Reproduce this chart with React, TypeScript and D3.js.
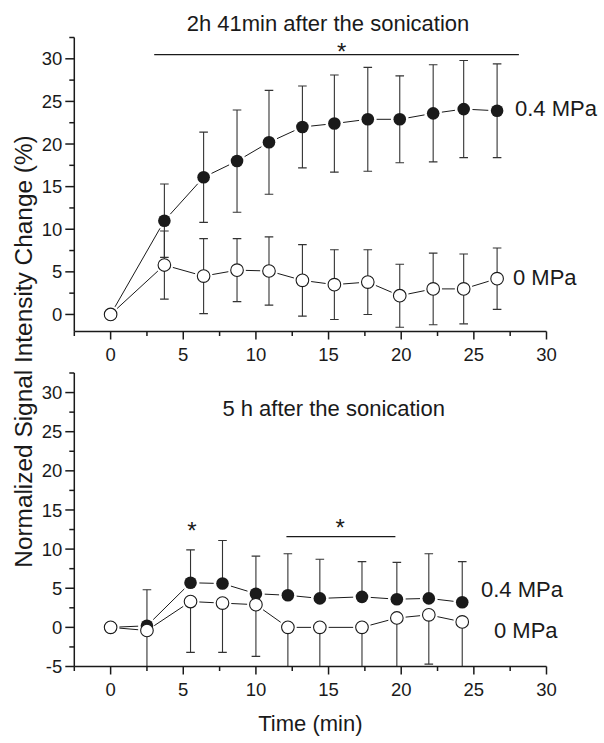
import React from "react";
import * as d3 from "d3";

// ---------- data ----------
const timeTop = [0, 3.7, 6.4, 8.7, 10.9, 13.2, 15.4, 17.7, 19.9, 22.2, 24.3, 26.6];
const filledTop = [0, 11.0, 16.1, 18.0, 20.2, 22.0, 22.4, 22.9, 22.9, 23.6, 24.1, 23.9];
const filledTopErr = [0, 4.3, 5.3, 6.0, 6.1, 4.8, 5.7, 6.1, 5.1, 5.7, 5.7, 5.5];
const openTop = [0, 5.8, 4.5, 5.2, 5.1, 4.0, 3.5, 3.8, 2.2, 3.0, 3.0, 4.2];
const openTopErr = [0, 4.0, 4.4, 3.7, 4.0, 4.2, 4.1, 3.8, 3.7, 4.2, 4.1, 3.6];

const timeBot = [0, 2.5, 5.5, 7.7, 10.0, 12.2, 14.4, 17.3, 19.7, 21.9, 24.2];
const filledBot = [0, 0.2, 5.7, 5.6, 4.3, 4.1, 3.7, 3.9, 3.6, 3.7, 3.2];
const filledBotErr = [0, 4.6, 4.2, 5.5, 4.8, 5.3, 5.0, 4.5, 4.7, 5.7, 5.2];
const openBot = [0, -0.4, 3.3, 3.1, 2.9, 0.0, 0.0, 0.0, 1.2, 1.6, 0.7];
const openBotErr = [0, 5.2, 6.5, 6.3, 6.6, 6.0, 6.0, 6.0, 6.5, 6.3, 6.0];

const xMajorTicks = [0, 5, 10, 15, 20, 25, 30];
const xMinorTicks = [-2.5, 2.5, 7.5, 12.5, 17.5, 22.5, 27.5];
const yMajorTop = [0, 5, 10, 15, 20, 25, 30];
const yMinorTop = [2.5, 7.5, 12.5, 17.5, 22.5, 27.5, 32.5];
const yMajorBot = [-5, 0, 5, 10, 15, 20, 25, 30];
const yMinorBot = [-2.5, 2.5, 7.5, 12.5, 17.5, 22.5, 27.5, 32.5];

const titleTop = "2h 41min after the sonication";
const titleBot = "5 h after the sonication";
const seriesHigh = "0.4 MPa";
const seriesZero = "0 MPa";
const xLabel = "Time (min)";
const yLabel = "Normalized Signal Intensity Change (%)";

// ---------- layout ----------
const W = 604;
const H = 743;
const FONT = "'Liberation Sans', Arial, Helvetica, sans-serif";
const INK = "#1a1a1a";
const X0 = 74.3;
const X1 = 546.5;
const R = 6.3;

type Panel = {
  id: string;
  yTop: number;
  yBot: number;
  domain: [number, number];
  majors: number[];
  minors: number[];
  t: number[];
  f: number[];
  fe: number[];
  o: number[];
  oe: number[];
  fDir: "both" | "plus";
  oDir: "both" | "minus";
};

const panels: Panel[] = [
  { id: "top", yTop: 37.5, yBot: 331.5, domain: [-2, 32.5], majors: yMajorTop, minors: yMinorTop,
    t: timeTop, f: filledTop, fe: filledTopErr, o: openTop, oe: openTopErr, fDir: "both", oDir: "both" },
  { id: "bot", yTop: 373, yBot: 666.5, domain: [-5, 32.5], majors: yMajorBot, minors: yMinorBot,
    t: timeBot, f: filledBot, fe: filledBotErr, o: openBot, oe: openBotErr, fDir: "plus", oDir: "minus" },
];

const x = d3.scaleLinear().domain([-2.5, 30]).range([X0, X1]);

function gappedSegments(pts: [number, number][], gap: number) {
  const segs: { x1: number; y1: number; x2: number; y2: number }[] = [];
  for (let i = 0; i < pts.length - 1; i++) {
    const [ax, ay] = pts[i];
    const [bx, by] = pts[i + 1];
    const dx = bx - ax, dy = by - ay;
    const len = Math.hypot(dx, dy);
    if (len <= 2 * gap) continue;
    const ux = dx / len, uy = dy / len;
    segs.push({ x1: ax + ux * gap, y1: ay + uy * gap, x2: bx - ux * gap, y2: by - uy * gap });
  }
  return segs;
}

function PanelView({ p }: { p: Panel }) {
  const y = d3.scaleLinear().domain(p.domain).range([p.yBot, p.yTop]);
  const clipId = `clip-${p.id}`;
  const fPts: [number, number][] = p.t.map((t, i) => [x(t), y(p.f[i])]);
  const oPts: [number, number][] = p.t.map((t, i) => [x(t), y(p.o[i])]);
  const errBars = (vals: number[], errs: number[], dir: string, key: string) =>
    p.t.map((t, i) => {
      if (errs[i] <= 0) return null;
      const cx = x(t);
      const c = y(vals[i]);
      const hi = dir === "minus" ? c : y(vals[i] + errs[i]);
      const lo = dir === "plus" ? c : y(vals[i] - errs[i]);
      return (
        <g key={`${key}${i}`}>
          <line x1={cx} x2={cx} y1={hi} y2={lo} />
          {dir !== "minus" && <line x1={cx - 4.3} x2={cx + 4.3} y1={hi} y2={hi} />}
          {dir !== "plus" && <line x1={cx - 4.3} x2={cx + 4.3} y1={lo} y2={lo} />}
        </g>
      );
    });
  return (
    <g>
      <defs>
        <clipPath id={clipId}>
          <rect x={X0} y={p.yTop - 10} width={X1 - X0 + 10} height={p.yBot - p.yTop + 10} />
        </clipPath>
      </defs>
      {/* error bars */}
      <g clipPath={`url(#${clipId})`} stroke="#333" strokeWidth={1.1}>
        {errBars(p.f, p.fe, p.fDir, "f")}
        {errBars(p.o, p.oe, p.oDir, "o")}
      </g>
      {/* connecting lines */}
      <g stroke={INK} strokeWidth={1}>
        {gappedSegments(fPts, R + 2.5).map((s, i) => (
          <line key={`fl${i}`} {...s} />
        ))}
        {gappedSegments(oPts, R + 2.5).map((s, i) => (
          <line key={`ol${i}`} {...s} />
        ))}
      </g>
      {/* markers */}
      {fPts.map(([cx, cy], i) => (
        <circle key={`fm${i}`} cx={cx} cy={cy} r={R} fill={INK} />
      ))}
      {oPts.map(([cx, cy], i) => (
        <circle key={`om${i}`} cx={cx} cy={cy} r={R} fill="#fff" stroke={INK} strokeWidth={1.1} />
      ))}
      {/* axes */}
      <g stroke={INK} strokeWidth={1.5}>
        <line x1={X0} x2={X0} y1={p.yTop} y2={p.yBot} />
        <line x1={X0} x2={X1} y1={p.yBot} y2={p.yBot} />
        {p.majors.map((v) => (
          <line key={`ym${v}`} x1={X0 - 9} x2={X0} y1={y(v)} y2={y(v)} />
        ))}
        {p.minors.map((v) => (
          <line key={`yn${v}`} x1={X0 - 5} x2={X0} y1={y(v)} y2={y(v)} />
        ))}
        {xMajorTicks.map((v) => (
          <line key={`xm${v}`} x1={x(v)} x2={x(v)} y1={p.yBot} y2={p.yBot + 8} />
        ))}
        {xMinorTicks.map((v) => (
          <line key={`xn${v}`} x1={x(v)} x2={x(v)} y1={p.yBot} y2={p.yBot + 4.5} />
        ))}
      </g>
      <g fill={INK} fontFamily={FONT} fontSize={18.5}>
        {p.majors.map((v) => (
          <text key={`yl${v}`} x={X0 - 12} y={y(v) + 6.6} textAnchor="end">
            {v}
          </text>
        ))}
        {xMajorTicks.map((v) => (
          <text key={`xl${v}`} x={x(v)} y={p.yBot + 29.5} textAnchor="middle">
            {v}
          </text>
        ))}
      </g>
    </g>
  );
}

export default function App() {
  const yTopS = d3.scaleLinear().domain(panels[0].domain).range([panels[0].yBot, panels[0].yTop]);
  const yBotS = d3.scaleLinear().domain(panels[1].domain).range([panels[1].yBot, panels[1].yTop]);
  const astSize = 24;
  const astOff = 0.575 * astSize;
  return (
    <svg
      width={W}
      height={H}
      viewBox={`0 0 ${W} ${H}`}
      style={{ position: "absolute", left: 0, top: 0, background: "#fff" }}
    >
      <rect width={W} height={H} fill="#fff" />
      {panels.map((p) => (
        <PanelView key={p.id} p={p} />
      ))}
      <g fill={INK} fontFamily={FONT}>
        <text x={328} y={31} fontSize={22} textAnchor="middle">{titleTop}</text>
        <text x={333.7} y={416} fontSize={22} textAnchor="middle">{titleBot}</text>
        <text x={515} y={116} fontSize={22}>{seriesHigh}</text>
        <text x={513} y={285} fontSize={22}>{seriesZero}</text>
        <text x={481} y={597} fontSize={22}>{seriesHigh}</text>
        <text x={494} y={638} fontSize={22}>{seriesZero}</text>
        <text x={(X0 + X1) / 2} y={731} fontSize={22} textAnchor="middle">{xLabel}</text>
        <text
          transform={`translate(32,351.5) rotate(-90)`}
          fontSize={24.4}
          textAnchor="middle"
        >
          {yLabel}
        </text>
        {/* significance marks */}
        <text x={x(15.9)} y={yTopS(31.5) + astOff} fontSize={astSize} textAnchor="middle">*</text>
        <text x={x(5.6)} y={yBotS(13.0) + astOff} fontSize={astSize} textAnchor="middle">*</text>
        <text x={x(15.8)} y={yBotS(13.4) + astOff} fontSize={astSize} textAnchor="middle">*</text>
      </g>
      <g stroke={INK} strokeWidth={1.2}>
        <line x1={x(3.0)} x2={x(28.1)} y1={yTopS(30.5)} y2={yTopS(30.5)} />
        <line x1={x(12.1)} x2={x(19.6)} y1={yBotS(11.6)} y2={yBotS(11.6)} />
      </g>
    </svg>
  );
}
